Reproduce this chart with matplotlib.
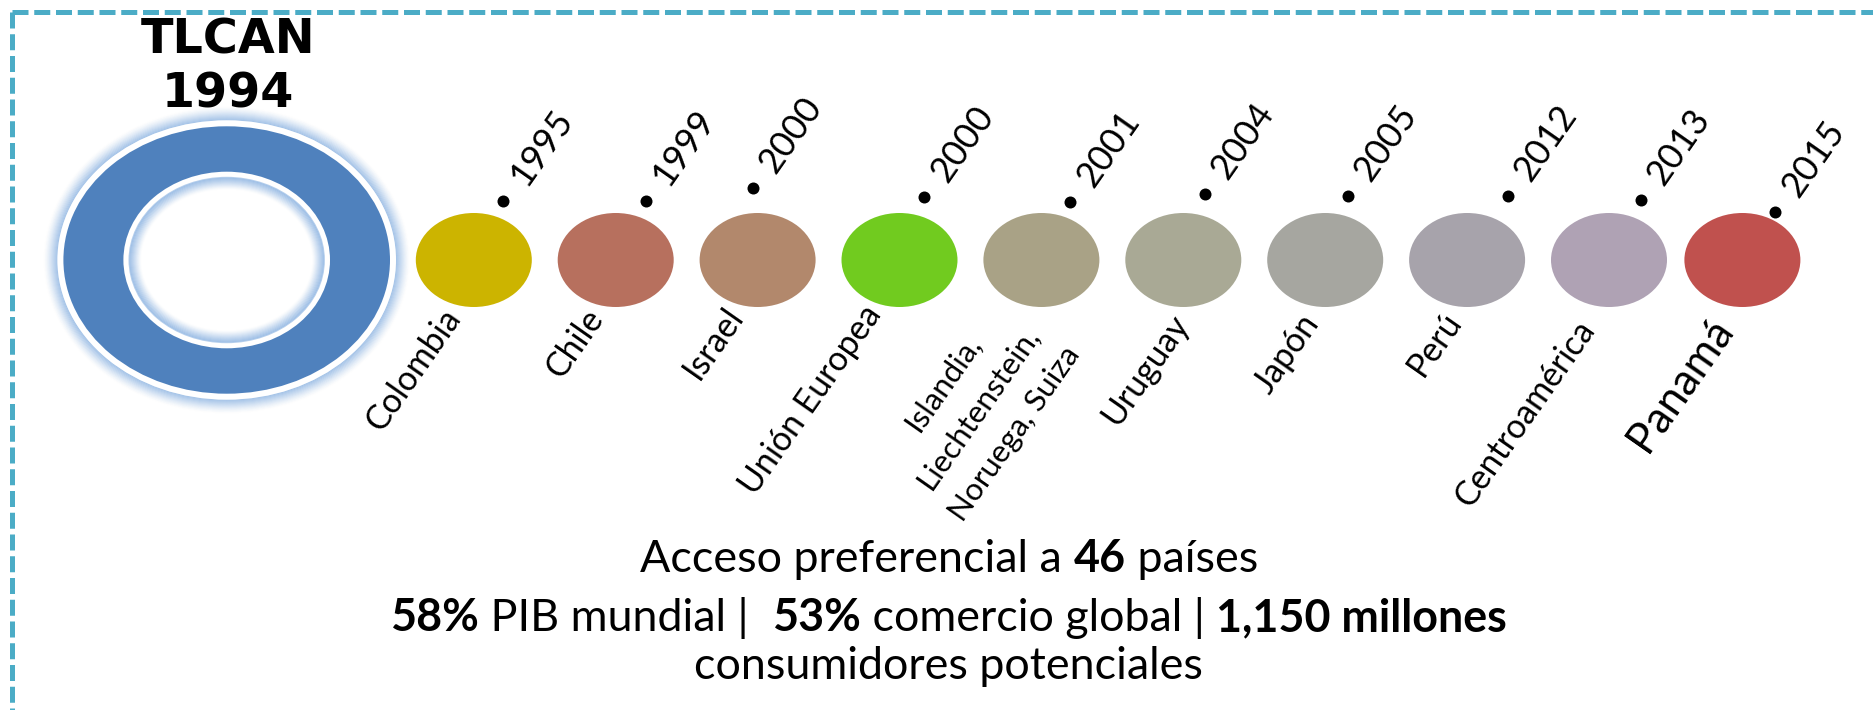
import numpy as np
import matplotlib
matplotlib.use("Agg")
import matplotlib.pyplot as plt
from matplotlib.patches import Ellipse
from matplotlib.lines import Line2D
from matplotlib.font_manager import FontProperties
from matplotlib.textpath import TextPath

# ---------------- data ----------------
hub_name = "TLCAN"
hub_year = "1994"
partners = ["Colombia", "Chile", "Israel", "Unión Europea",
            "Islandia,\nLiechtenstein,\nNoruega, Suiza", "Uruguay", "Japón",
            "Perú", "Centroamérica", "Panamá"]
years = ["1995", "1999", "2000", "2000", "2001", "2004", "2005", "2012", "2013", "2015"]
colors = ["#CCB400", "#B7705E", "#B2886C", "#71CB1F", "#A9A286", "#A9A995",
          "#A6A6A0", "#A7A3AB", "#AFA2B4", "#C0514E"]
summary_lines = [
    [("Acceso preferencial a ", False), ("46", True), (" países", False)],
    [("58%", True), (" PIB mundial |  ", False), ("53%", True),
     (" comercio global | ", False), ("1,150 millones", True)],
    [("consumidores potenciales", False)],
]

# ---------------- layout ----------------
W, H, DPI = 1873, 710, 100
BODY = "Lato"
slots = [0, 1, 2, 3, 4, 5, 6, 7, 8, 8.94]
X0, STEP, CY = 473.8, 141.9, 260.0
RX, RY = 58, 47
ANG = 55.0
label_off = [(-20, 52), (-19, 52), (-21, 50), (-25, 49), (-4, 64),
             (-1, 58), (-13, 58), (-13, 55), (-21, 64), (-18, 62)]
dot_off = [(29.5, -59), (30, -59), (-4.5, -72), (25, -63), (29, -58),
           (21.5, -66), (23, -64), (41, -64), (32, -60), (33, -48)]

d = np.array([np.cos(np.radians(ANG)), -np.sin(np.radians(ANG))])   # text direction (screen, y down)
down = np.array([np.sin(np.radians(ANG)), np.cos(np.radians(ANG))])  # towards baseline side


def ink_px(s, fp):
    return TextPath((0, 0), s, prop=fp).get_extents().width * DPI / 72


def adv_px(s, fp):
    a = TextPath((0, 0), "|" + s + "|", prop=fp).get_extents().width
    b = TextPath((0, 0), "||", prop=fp).get_extents().width
    return (a - b) * DPI / 72


def fit(s, target, family=BODY, weight="normal"):
    fp = FontProperties(family=family, weight=weight, size=10)
    return 10 * target / ink_px(s, fp)


fig = plt.figure(figsize=(W / DPI, H / DPI), dpi=DPI)
ax = fig.add_axes([0, 0, 1, 1])
ax.set_xlim(0, W)
ax.set_ylim(H, 0)
ax.axis("off")

# dashed border (top and left)
bc = "#4BACC6"
for xs, ys in (([11.7, W + 5], [11.7, 11.7]), ([11.7, 11.7], [11.7, H + 5])):
    ax.add_line(Line2D(xs, ys, color=bc, lw=3.6, linestyle=(0, (3.2, 1.15)),
                       dash_capstyle="butt", solid_capstyle="butt"))

# hub ring
hx, hy = 226.7, 260.0
rxo, ryo, rxi, ryi = 163.3, 133.7, 103.3, 88.3
glow = "#8DB4E2"
for k in range(14):
    ax.add_patch(Ellipse((hx, hy), 2 * (rxo + 6 + k), 2 * (ryo + 6 + k), fill=False,
                         ec=glow, lw=1.3, alpha=0.6 * (1 - k / 14) ** 1.6))
ax.add_patch(Ellipse((hx, hy), 2 * (rxo + 6), 2 * (ryo + 6), fc="white", ec="none"))
ax.add_patch(Ellipse((hx, hy), 2 * rxo, 2 * ryo, fc="#4F81BD", ec="none"))
ax.add_patch(Ellipse((hx, hy), 2 * rxi, 2 * ryi, fc="white", ec="none"))
for k in range(12):
    ax.add_patch(Ellipse((hx, hy), 2 * (rxi - 6 - k), 2 * (ryi - 6 - k), fill=False,
                         ec=glow, lw=1.3, alpha=0.65 * (1 - k / 12) ** 1.4))

title_pt = fit(hub_name, 170, "DejaVu Sans", "bold")
ax.text(228, 53, hub_name, fontsize=title_pt, fontweight="bold", family="DejaVu Sans",
        ha="center", va="baseline", color="black")
ax.text(228, 108, hub_year, fontsize=title_pt, fontweight="bold", family="DejaVu Sans",
        ha="center", va="baseline", color="black")

# partner circles, labels, years
label_pt = fit("Colombia", 137)
island_pt = fit("Liechtenstein,", 187)
panama_pt = fit("Panamá", 145)
year_pt = fit("1995", 78)
lp_asc = TextPath((0, 0), "lp", prop=FontProperties(family=BODY, size=island_pt)).get_extents().y1 * DPI / 72
island_ls = 39.0 / lp_asc

xs = [X0 + STEP * s for s in slots]
for i, (name, yr, col) in enumerate(zip(partners, years, colors)):
    cx = xs[i]
    ax.add_patch(Ellipse((cx, CY), 2 * RX, 2 * RY, fc=col, ec="none"))
    lx, ly = cx + label_off[i][0], CY + label_off[i][1]
    if "\n" in name:
        ax.text(lx, ly, name, fontsize=island_pt, family=BODY, rotation=ANG,
                rotation_mode="anchor", ha="right", va="center", multialignment="center",
                linespacing=island_ls, color="black")
    else:
        fs = panama_pt if name == "Panamá" else label_pt
        ax.text(lx, ly, name, fontsize=fs, family=BODY, rotation=ANG,
                rotation_mode="anchor", ha="right", va="center", color="black")
    bx, by = cx + dot_off[i][0], CY + dot_off[i][1]
    ax.scatter([bx], [by], s=(12 * 0.72) ** 2, c="black", zorder=5, linewidths=0)
    em = year_pt * DPI / 72
    p = np.array([bx, by]) + 24 * d + 0.30 * em * down
    ax.text(p[0], p[1], yr, fontsize=year_pt, family=BODY, rotation=ANG,
            rotation_mode="anchor", ha="left", va="baseline", color="black")

# summary text
line_y = [571.7, 631.0, 679.3]
line_cx = 949


def line_width(pieces, size):
    tot = 0
    for txt, bold in pieces:
        fp = FontProperties(family=BODY, weight="bold" if bold else "normal", size=size)
        tot += adv_px(txt, fp)
    return tot


body_pt = 10 * 1118 / line_width(summary_lines[1], 10)
for pieces, y in zip(summary_lines, line_y):
    total = line_width(pieces, body_pt)
    x = line_cx - total / 2
    for txt, bold in pieces:
        fp = FontProperties(family=BODY, weight="bold" if bold else "normal", size=body_pt)
        ax.text(x, y, txt, fontsize=body_pt, family=BODY,
                fontweight="bold" if bold else "normal", ha="left", va="baseline", color="black")
        x += adv_px(txt, fp)

fig.savefig("out.png", dpi=DPI)
